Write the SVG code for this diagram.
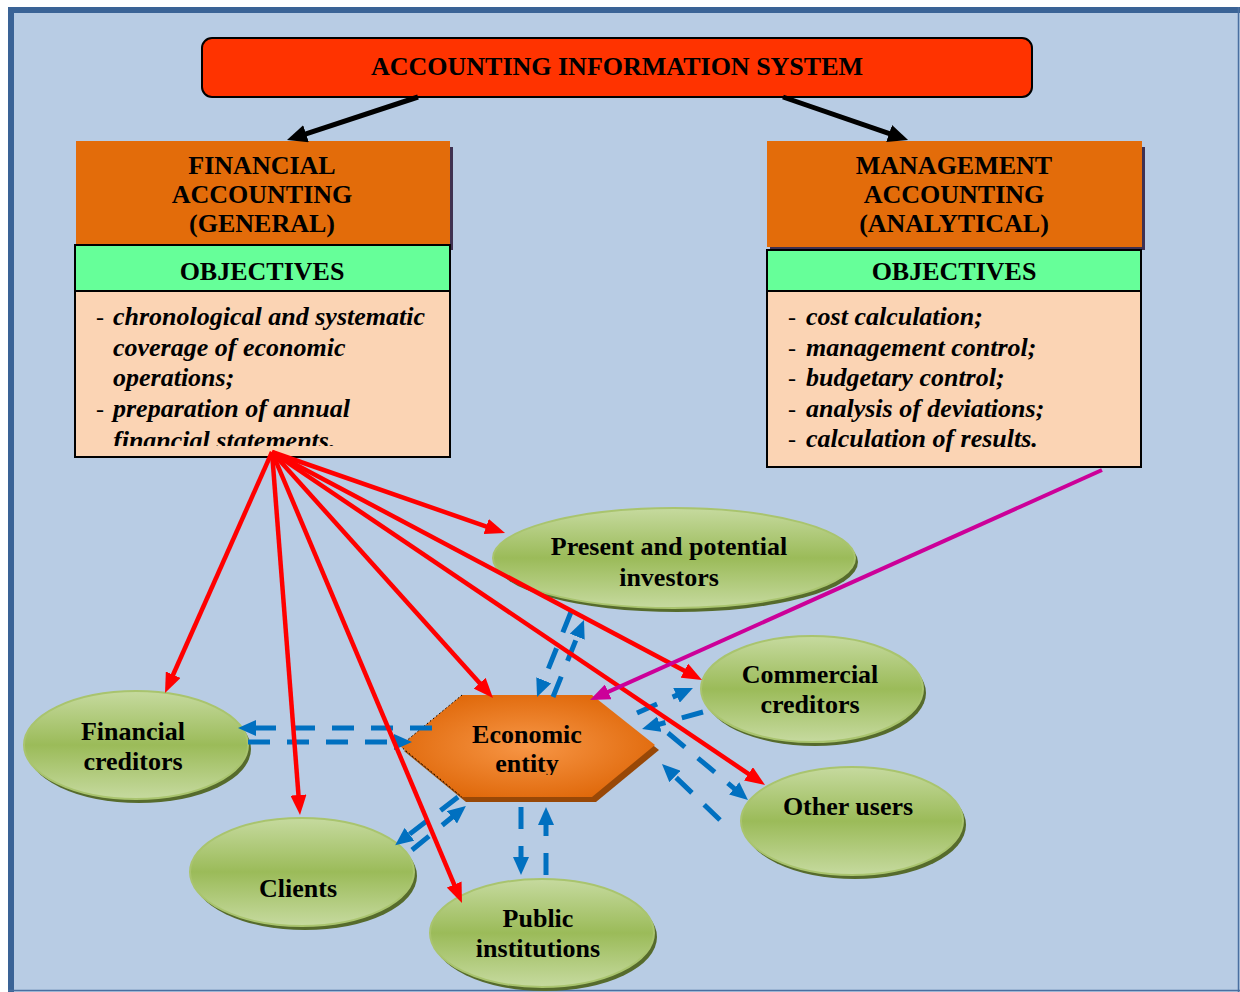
<svg xmlns="http://www.w3.org/2000/svg" width="1240" height="992" viewBox="0 0 1240 992">
  <defs>
    <style>
      .cap { font-family: "Liberation Serif", "Times New Roman", serif; font-weight: bold; font-size: 26px; fill: #000; text-anchor: middle; }
      .obj { font-family: "Liberation Serif", "Times New Roman", serif; font-weight: bold; font-style: italic; font-size: 26px; fill: #000; }
      .dash { font-family: "Liberation Serif", "Times New Roman", serif; font-size: 24px; fill: #000; }
      .lbl { font-family: "Liberation Serif", "Times New Roman", serif; font-weight: bold; font-size: 26px; fill: #000; text-anchor: middle; }
      .user { fill: url(#g-user); stroke: #A9C46E; stroke-width: 2; }
      .user-shadow { fill: #566B2C; }
      .red { stroke: #FF0000; stroke-width: 4.5; fill: none; marker-end: url(#ah-red); }
      .mag { stroke: #CC0099; stroke-width: 4; fill: none; marker-end: url(#ah-mag); }
      .blk { stroke: #000; stroke-width: 5; fill: none; marker-end: url(#ah-blk); }
      .blue { stroke: #0070C0; stroke-width: 5; stroke-dasharray: 22 17; fill: none; marker-end: url(#ah-blue); }
    </style>
    <linearGradient id="g-user" x1="0" y1="0" x2="0" y2="1">
      <stop offset="0" stop-color="#C6DA9F"/>
      <stop offset="0.5" stop-color="#9BBB59"/>
      <stop offset="1" stop-color="#C6DA9F"/>
    </linearGradient>
    <radialGradient id="g-entity" cx="0.5" cy="0.5" r="0.55">
      <stop offset="0" stop-color="#F79646"/>
      <stop offset="1" stop-color="#E0690B"/>
    </radialGradient>
    <marker id="ah-red" viewBox="0 0 20 16" refX="8" refY="8" markerWidth="20" markerHeight="16" markerUnits="userSpaceOnUse" orient="auto">
      <path d="M0,0 L20,8 L0,16 z" fill="#FF0000"/>
    </marker>
    <marker id="ah-mag" viewBox="0 0 20 16" refX="8" refY="8" markerWidth="20" markerHeight="16" markerUnits="userSpaceOnUse" orient="auto">
      <path d="M0,0 L20,8 L0,16 z" fill="#CC0099"/>
    </marker>
    <marker id="ah-blk" viewBox="0 0 20 18" refX="8" refY="9" markerWidth="20" markerHeight="18" markerUnits="userSpaceOnUse" orient="auto">
      <path d="M0,0 L20,9 L0,18 z" fill="#000"/>
    </marker>
    <marker id="ah-blue" viewBox="0 0 18 16" refX="6" refY="8" markerWidth="18" markerHeight="16" markerUnits="userSpaceOnUse" orient="auto">
      <path d="M0,0 L18,8 L0,16 z" fill="#0070C0"/>
    </marker>
    <clipPath id="clip-fin">
      <rect x="76" y="292" width="373" height="154"/>
    </clipPath>
    <clipPath id="clip-entity">
      <rect x="400" y="690" width="260" height="85"/>
    </clipPath>
  </defs>

  <!-- page background and frame -->
  <rect x="8" y="7" width="1232" height="985" fill="#B8CCE4"/>
  <line x1="8" y1="10" x2="1240" y2="10" stroke="#3A6396" stroke-width="6"/>
  <line x1="11" y1="7" x2="11" y2="992" stroke="#3A6396" stroke-width="6"/>
  <line x1="1238.5" y1="7" x2="1238.5" y2="992" stroke="#4A6FA0" stroke-width="1.5"/>
  <line x1="8" y1="990.5" x2="1240" y2="990.5" stroke="#4A6FA0" stroke-width="1.5"/>

  <!-- top system box -->
  <g id="ais">
    <rect x="202" y="38" width="830" height="59" rx="10" fill="#FF3300" stroke="#000" stroke-width="2"/>
    <text class="cap" x="617" y="75">ACCOUNTING INFORMATION SYSTEM</text>
  </g>

  <!-- financial accounting block -->
  <g id="financial">
    <rect x="450" y="147" width="3" height="103" fill="#3F3151"/>
    <rect x="76" y="141" width="374" height="104" fill="#E36C0A"/>
    <text class="cap" x="262" y="174">FINANCIAL</text>
    <text class="cap" x="262" y="203">ACCOUNTING</text>
    <text class="cap" x="262" y="232">(GENERAL)</text>
    <rect x="75" y="245" width="375" height="46" fill="#66FF99" stroke="#000" stroke-width="2"/>
    <text class="cap" x="262" y="280" font-size="24">OBJECTIVES</text>
    <rect x="75" y="291" width="375" height="166" fill="#FBD4B4" stroke="#000" stroke-width="2"/>
    <g clip-path="url(#clip-fin)">
      <text class="dash" x="96" y="325">-</text>
      <text class="obj" x="113" y="325">chronological and systematic</text>
      <text class="obj" x="113" y="356">coverage of economic</text>
      <text class="obj" x="113" y="386">operations;</text>
      <text class="dash" x="96" y="417">-</text>
      <text class="obj" x="113" y="417">preparation of annual</text>
      <text class="obj" x="113" y="449">financial statements.</text>
    </g>
  </g>

  <!-- management accounting block -->
  <g id="management">
    <rect x="770" y="147" width="375" height="103" fill="#3F3151"/>
    <rect x="767" y="141" width="375" height="106" fill="#E36C0A"/>
    <text class="cap" x="954" y="174">MANAGEMENT</text>
    <text class="cap" x="954" y="203">ACCOUNTING</text>
    <text class="cap" x="954" y="232">(ANALYTICAL)</text>
    <rect x="767" y="250" width="374" height="41" fill="#66FF99" stroke="#000" stroke-width="2"/>
    <text class="cap" x="954" y="280" font-size="24">OBJECTIVES</text>
    <rect x="767" y="291" width="374" height="176" fill="#FBD4B4" stroke="#000" stroke-width="2"/>
    <text class="dash" x="788" y="325">-</text>
    <text class="obj" x="806" y="325">cost calculation;</text>
    <text class="dash" x="788" y="356">-</text>
    <text class="obj" x="806" y="356">management control;</text>
    <text class="dash" x="788" y="386">-</text>
    <text class="obj" x="806" y="386">budgetary control;</text>
    <text class="dash" x="788" y="417">-</text>
    <text class="obj" x="806" y="417">analysis of deviations;</text>
    <text class="dash" x="788" y="447">-</text>
    <text class="obj" x="806" y="447">calculation of results.</text>
  </g>

  <!-- users -->
  <g id="investors">
    <ellipse class="user-shadow" cx="677" cy="562" rx="181" ry="50"/>
    <ellipse class="user" cx="674" cy="558" rx="181" ry="50"/>
    <text class="lbl" x="669" y="555">Present and potential</text>
    <text class="lbl" x="669" y="586">investors</text>
  </g>
  <g id="commercial-creditors">
    <ellipse class="user-shadow" cx="815" cy="693" rx="111" ry="53"/>
    <ellipse class="user" cx="812" cy="689" rx="111" ry="53"/>
    <text class="lbl" x="810" y="683">Commercial</text>
    <text class="lbl" x="810" y="713">creditors</text>
  </g>
  <g id="other-users">
    <ellipse class="user-shadow" cx="855" cy="825" rx="111" ry="54"/>
    <ellipse class="user" cx="852" cy="821" rx="111" ry="54"/>
    <text class="lbl" x="848" y="815">Other users</text>
  </g>
  <g id="financial-creditors">
    <ellipse class="user-shadow" cx="139" cy="749" rx="112" ry="54"/>
    <ellipse class="user" cx="136" cy="745" rx="112" ry="54"/>
    <text class="lbl" x="133" y="740">Financial</text>
    <text class="lbl" x="133" y="770">creditors</text>
  </g>
  <g id="clients">
    <ellipse class="user-shadow" cx="305" cy="876" rx="112" ry="54"/>
    <ellipse class="user" cx="302" cy="872" rx="112" ry="54"/>
    <text class="lbl" x="298" y="897">Clients</text>
  </g>
  <g id="public-institutions">
    <ellipse class="user-shadow" cx="545" cy="937" rx="112" ry="54"/>
    <ellipse class="user" cx="542" cy="933" rx="112" ry="54"/>
    <text class="lbl" x="538" y="927">Public</text>
    <text class="lbl" x="538" y="957">institutions</text>
  </g>

  <!-- economic entity -->
  <g id="entity">
    <polygon points="466,700 596,700 659,750 596,802 466,802 404,751" fill="#984807"/>
    <polygon points="462,695 592,695 655,745 592,797 462,797 400,746" fill="url(#g-entity)"/>
    <path d="M462,695 L400,746 L462,797" fill="none" stroke="#000" stroke-width="1" stroke-dasharray="1.5 2.5"/>
    <g clip-path="url(#clip-entity)">
      <text class="lbl" x="527" y="743">Economic</text>
      <text class="lbl" x="527" y="772">entity</text>
    </g>
  </g>

  <!-- connectors -->
  <g id="connectors">
    <!-- system to branches -->
    <line class="blk" x1="418" y1="97" x2="298.4" y2="136.3"/>
    <line class="blk" x1="783" y1="97" x2="896.7" y2="136.1"/>

    <!-- information flows between the entity and its users -->
    <line class="blue" x1="432" y1="728" x2="250" y2="728"/>
    <line class="blue" x1="248" y1="742" x2="400" y2="742"/>
    <line class="blue" x1="571" y1="612" x2="541.5" y2="685.9"/>
    <line class="blue" x1="553" y1="697" x2="579.5" y2="631.1"/>
    <line class="blue" x1="637" y1="713" x2="682" y2="692.9"/>
    <line class="blue" x1="703" y1="712" x2="653.6" y2="725.8"/>
    <line class="blue" x1="668" y1="733" x2="738.8" y2="792.3"/>
    <line class="blue" x1="720" y1="820" x2="670.6" y2="772.3"/>
    <line class="blue" x1="458" y1="797" x2="404.7" y2="837.9"/>
    <line class="blue" x1="412" y1="850" x2="456.6" y2="813.5"/>
    <line class="blue" x1="521" y1="807" x2="521" y2="863"/>
    <line class="blue" x1="546" y1="875" x2="546" y2="819"/>

    <!-- financial statements to users -->
    <line class="red" x1="272" y1="452" x2="169.9" y2="682"/>
    <line class="red" x1="272" y1="452" x2="299.1" y2="803"/>
    <line class="red" x1="272" y1="452" x2="457.3" y2="891.9"/>
    <line class="red" x1="272" y1="452" x2="485" y2="689.1"/>
    <line class="red" x1="272" y1="452" x2="493.7" y2="529.1"/>
    <line class="red" x1="272" y1="452" x2="691.4" y2="674.4"/>
    <line class="red" x1="272" y1="452" x2="755.1" y2="778.3"/>

    <!-- management reports to the entity -->
    <line class="mag" x1="1102" y1="470" x2="600.9" y2="695.1"/>
  </g>
</svg>
